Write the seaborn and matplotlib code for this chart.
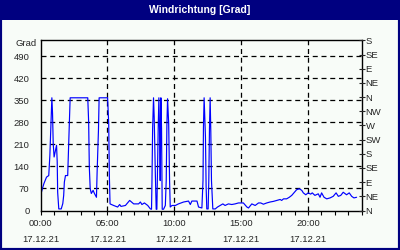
import matplotlib
matplotlib.use("Agg")
import matplotlib.pyplot as plt
import seaborn as sns
import pandas as pd
from matplotlib.patches import Rectangle

# ---- data -------------------------------------------------------------
times = [
    "00:04", "00:15", "00:27", "00:37", "00:42", "00:48", "00:51", "00:54", "00:57", "01:01",
    "01:07", "01:12", "01:15", "01:17", "01:22", "01:33", "01:40", "01:44", "01:47", "01:52",
    "02:02", "02:07", "02:10", "02:13", "03:32", "03:36", "03:39", "03:43", "03:48", "03:56",
    "04:02", "04:11", "04:14", "04:20", "04:23", "05:01", "05:06", "05:09", "05:12", "05:28",
    "05:46", "05:55", "06:01", "06:21", "06:40", "06:58", "07:20", "07:28", "07:35", "07:46",
    "08:01", "08:13", "08:18", "08:20", "08:23", "08:27", "08:30", "08:35", "08:39", "08:42",
    "08:44", "08:48", "08:51", "08:54", "08:57", "09:00", "09:03", "09:06", "09:12", "09:20",
    "09:24", "09:27", "09:30", "09:35", "09:39", "09:42", "09:50", "10:05", "10:19", "10:42",
    "11:04", "11:12", "11:19", "11:42", "11:49", "12:04", "12:09", "12:11", "12:14", "12:17",
    "12:20", "12:23", "12:26", "12:32", "12:35", "12:38", "12:41", "12:44", "12:47", "12:53",
    "13:04", "13:14", "13:26", "13:38", "13:48", "14:03", "14:18", "14:33", "14:48", "15:10",
    "15:26", "15:33", "15:48", "16:03", "16:18", "16:28", "16:40", "16:55", "17:10", "17:25",
    "17:40", "17:55", "18:02", "18:10", "18:24", "18:36", "18:47", "18:57", "19:09", "19:21",
    "19:32", "19:39", "19:50", "20:01", "20:12", "20:19", "20:31", "20:46", "20:54", "21:01",
    "21:12", "21:24", "21:39", "21:53", "22:06", "22:16", "22:27", "22:38", "22:53", "23:05",
    "23:16", "23:26", "23:38",
]
values = [
    58, 85, 106, 111, 175, 297, 358, 308, 213, 170,
    191, 207, 154, 58, 5, 5, 22, 48, 90, 111,
    111, 223, 297, 358, 358, 281, 138, 69, 54, 64,
    54, 42, 122, 255, 358, 358, 276, 106, 21, 16,
    11, 19, 13, 16, 32, 21, 21, 27, 19, 24,
    16, 5, 4, 90, 260, 358, 297, 122, 4, 4,
    95, 260, 358, 260, 95, 358, 260, 4, 4, 16,
    95, 270, 355, 276, 95, 11, 16, 16, 21, 27,
    30, 19, 30, 30, 11, 8, 95, 265, 358, 297,
    233, 74, 5, 5, 95, 260, 358, 250, 95, 5,
    5, 11, 16, 21, 16, 21, 19, 21, 24, 24,
    11, 8, 21, 16, 24, 24, 20, 24, 27, 29,
    32, 35, 32, 37, 37, 42, 48, 56, 66, 69,
    64, 56, 50, 56, 52, 56, 48, 53, 42, 56,
    42, 37, 40, 45, 56, 45, 48, 58, 50, 56,
    45, 40, 42,
]
y_ticks = [0, 70, 140, 210, 280, 350, 420, 490]
dir_ticks = [0, 45, 90, 135, 180, 225, 270, 315, 360, 405, 450, 495, 540]
dir_labels = ["N", "NE", "E", "SE", "S", "SW", "W", "NW", "N", "NE", "E", "SE", "S"]
x_major = [0, 5, 10, 15, 20]
x_tick_labels = ["00:00\n17.12.21", "05:00\n17.12.21", "10:00\n17.12.21",
                 "15:00\n17.12.21", "20:00\n17.12.21"]
title = "Windrichtung [Grad]"
unit = "Grad"

# ---- style ------------------------------------------------------------
sns.set_style("white")
plt.rcParams['font.family'] = ['Liberation Sans', 'DejaVu Sans']
FS = 6.8
BG = "#F8FCF8"
NAVY = "#000080"

hours = [int(t[:2]) + int(t[3:]) / 60 for t in times]
df = pd.DataFrame({"hour": hours, "deg": values})

fig = plt.figure(figsize=(4, 2.5), dpi=100, facecolor=BG)
ax = fig.add_axes([40.5 / 400, 1 - 210.5 / 250, 321 / 400, 170 / 250])
ax.set_facecolor(BG)

sns.lineplot(data=df, x="hour", y="deg", ax=ax, color="#0000FF", lw=0.85,
             estimator=None, sort=False)

ax.set_xlim(0, 24)
ax.set_ylim(0, 540)
ax.set_xlabel("")
ax.set_ylabel("")
ax.set_xticks(x_major)
ax.set_xticklabels(x_tick_labels, fontsize=FS, linespacing=2.0)
ax.set_xticks(range(0, 25), minor=True)
ax.set_yticks(y_ticks)
ax.set_yticklabels([str(v) for v in y_ticks], fontsize=FS)
ax.tick_params(axis="x", which="both", direction="out", length=3, width=0.8,
               color="black", bottom=True, pad=3)
ax.tick_params(axis="y", length=0, pad=8)

for s in ax.spines.values():
    s.set_color("black")
    s.set_linewidth(1.0)

for v in y_ticks[1:]:
    ax.axhline(v, color="black", lw=0.9, ls=(0, (4, 3)), zorder=1)
for v in x_major[1:]:
    ax.axvline(v, color="black", lw=0.9, ls=(0, (4, 3)), zorder=1)

ax2 = ax.twinx()
ax2.set_ylim(0, 540)
ax2.set_yticks(dir_ticks)
ax2.set_yticklabels(dir_labels, fontsize=FS)
ax2.tick_params(axis="y", direction="inout", length=4, width=0.8, pad=1, right=True)
for s in ax2.spines.values():
    s.set_visible(False)

fig.text(37 / 400, 1 - 44 / 250, unit, ha="right", va="center", fontsize=FS)

# title bar and border
fig.patches.append(Rectangle((0, 1 - 20 / 250), 1, 20 / 250, transform=fig.transFigure,
                             facecolor=NAVY, edgecolor="none", zorder=0))
fig.text(0.5, 1 - 10 / 250, title, ha="center", va="center", fontsize=7.5,
         fontweight="bold", color="white")
fig.patches.append(Rectangle((0, 0), 1, 1, transform=fig.transFigure, fill=False,
                             edgecolor=NAVY, lw=3, zorder=5))

fig.savefig("out.png", dpi=100, facecolor=BG)
